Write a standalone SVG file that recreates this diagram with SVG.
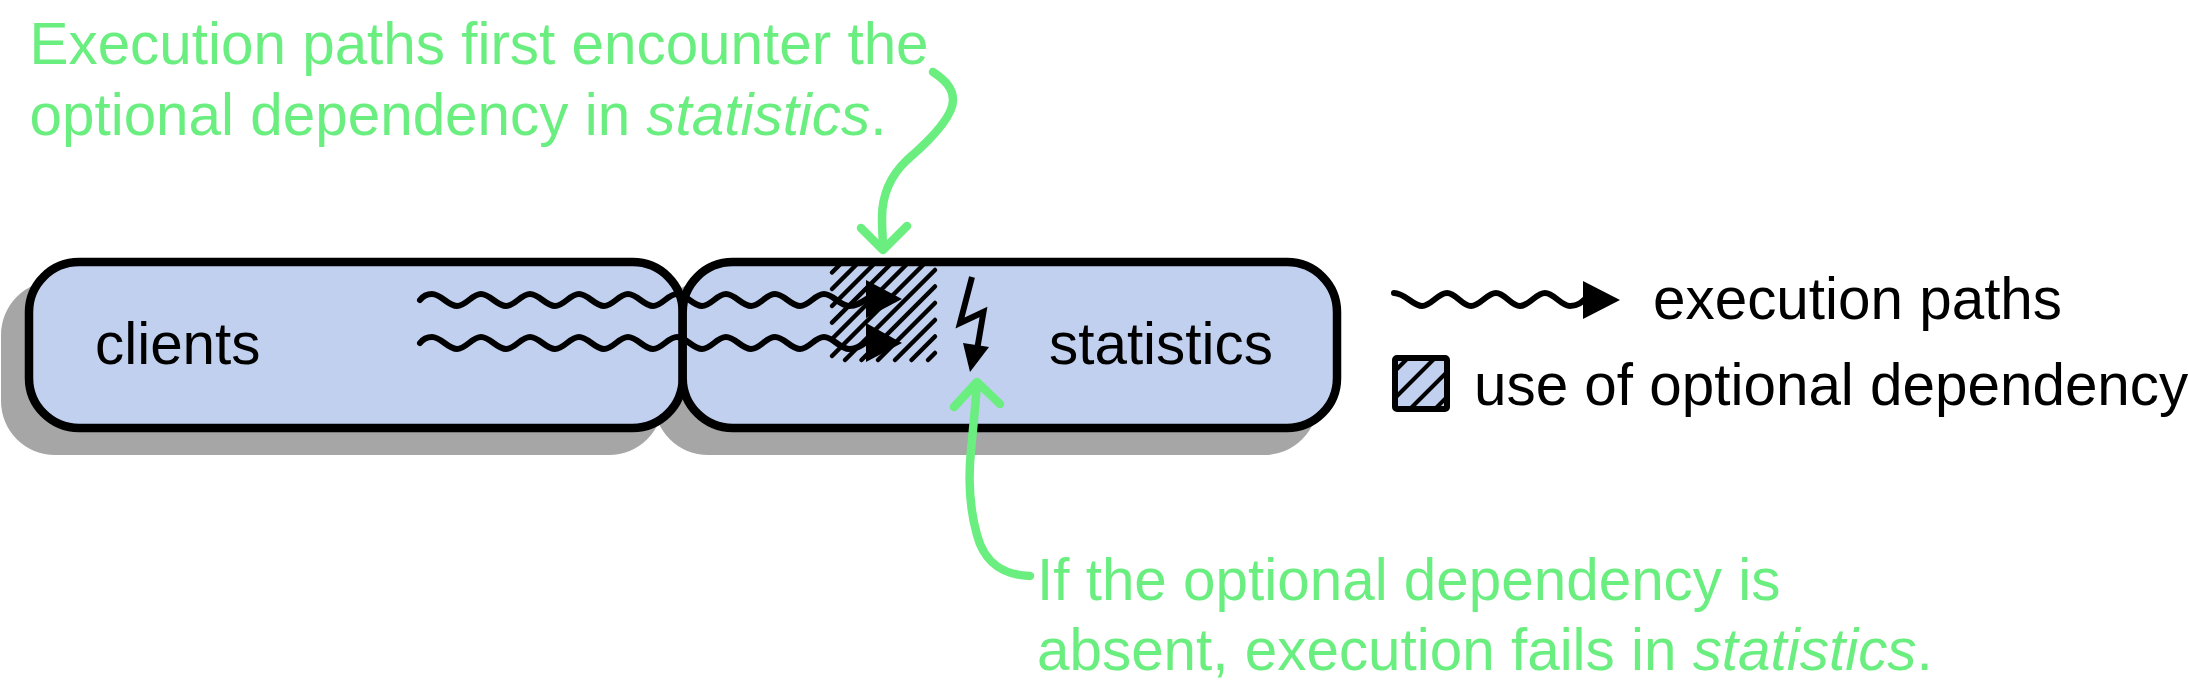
<svg xmlns="http://www.w3.org/2000/svg" width="2189" height="689" viewBox="0 0 2189 689">
<style>
text{font-family:"Liberation Sans",Arial,sans-serif;font-size:58.400px;fill:#000}
.g{fill:#6bee80}
.shadow{fill:#a6a6a6;stroke:none}
.fill{fill:#c0d0ee;stroke:none}
.edge{fill:none;stroke:#000;stroke-width:8.500}
.hatch{fill:none;stroke:#000;stroke-width:4.500;stroke-linecap:round}
.wave{fill:none;stroke:#000;stroke-width:6;stroke-linecap:round}
.head{fill:#000;stroke:none}
.note{fill:none;stroke:#6bee80;stroke-width:8.500;stroke-linecap:round;stroke-linejoin:round}
</style>
<rect width="2189" height="689" fill="#fff"/>
<g id="shadows">
<rect class="shadow" x="1" y="281" width="662" height="174" rx="54"/>
<rect class="shadow" x="654" y="281" width="664" height="174" rx="54"/>
</g>
<g id="clients">
<rect class="fill" x="29" y="262" width="653.700" height="166" rx="50"/>
<rect class="edge" x="29" y="262" width="653.700" height="166" rx="50"/>
<text x="95" y="364">clients</text>
</g>
<g id="statistics">
<rect class="fill" x="682.700" y="262" width="654.300" height="166" rx="50"/>
<path class="hatch" d="M832 272.500L842.500 262M832 289L859 262M832 306L876 262M832 322.700L892.700 262M832 339L909 262M832 356L926 262M845 360L935 270M861.500 360L935 286.500M878 360L935 303M895 360L935 320M911.500 360L935 336.500M928 360L935 353"/>
<rect class="edge" x="682.700" y="262" width="654.300" height="166" rx="50"/>
<text x="1049" y="364">statistics</text>
</g>
<g id="connectors">
<path class="wave" d="M420 300C423 296 427 294 432 294C441 294 448 306 457 306C466 306 472 294 481 294C490 294 497 306 506 306C515 306 521 294 530 294C539 294 546 306 555 306C564 306 570 294 579 294C588 294 595 306 604 306C613 306 619 294 628 294C637 294 644 306 653 306C662 306 668 294 677 294C686 294 693 306 702 306C711 306 717 294 726 294C735 294 742 306 751 306C760 306 766 294 775 294C784 294 791 306 800 306C809 306 815 294 824 294C833 294 840 306 849 306C857 306 862 302 868 298"/>
<path class="wave" d="M420 343C423 339 427 337 432 337C441 337 448 349 457 349C466 349 472 337 481 337C490 337 497 349 506 349C515 349 521 337 530 337C539 337 546 349 555 349C564 349 570 337 579 337C588 337 595 349 604 349C613 349 619 337 628 337C637 337 644 349 653 349C662 349 668 337 677 337C686 337 693 349 702 349C711 349 717 337 726 337C735 337 742 349 751 349C760 349 766 337 775 337C784 337 791 349 800 349C809 349 815 337 824 337C833 337 840 349 849 349C857 349 862 345 868 341"/>
<polygon class="head" points="866,280 902,299 866,318"/>
<polygon class="head" points="866,323 902,343 866,362"/>
<path d="M972 277L960 323L983.500 312L977 350" fill="none" stroke="#000" stroke-width="6" stroke-miterlimit="10"/>
<polygon class="head" points="963,343 989,347 970,372"/>
<path class="note" d="M933 72C945 80 953 88 953 100C953 118 928 142 907 160C890 176 882 195 882 218C882 230 883 240 883 250M861 228L883 250L907 226"/>
<path class="note" d="M1030 576C1005 575 985 565 977 535C970 510 968 480 971 450C973 430 975 410 977 384M954 407L977 382L1000 404"/>
</g>
<g id="note-top">
<text class="g" x="29.500" y="64">Execution paths first encounter the</text>
<text class="g" x="29.500" y="135">optional dependency in <tspan font-style="italic">statistics</tspan>.</text>
</g>
<g id="note-bottom">
<text class="g" x="1037" y="600">If the optional dependency is</text>
<text class="g" x="1037" y="670">absent, execution fails in <tspan font-style="italic">statistics</tspan>.</text>
</g>
<g id="legend-paths">
<path class="wave" d="M1394 293C1405 293 1413 306 1422 306C1431 306 1438 293 1447 293C1456 293 1462 306 1471 306C1480 306 1487 293 1496 293C1505 293 1511 306 1520 306C1529 306 1536 293 1545 293C1554 293 1561 306 1570 306C1578 306 1582 302 1586 298"/>
<polygon class="head" points="1583,281 1620,300 1583,319"/>
<text x="1653" y="319">execution paths</text>
</g>
<g id="legend-hatch">
<rect class="fill" x="1395" y="358" width="52" height="51"/>
<path d="M1395 371L1408 358M1395 398L1435 358M1410 409L1447 372M1435 409L1447 397" fill="none" stroke="#000" stroke-width="4"/>
<rect x="1395" y="358" width="52" height="51" rx="2" fill="none" stroke="#000" stroke-width="6"/>
<text x="1474" y="405">use of optional dependency</text>
</g>
</svg>
